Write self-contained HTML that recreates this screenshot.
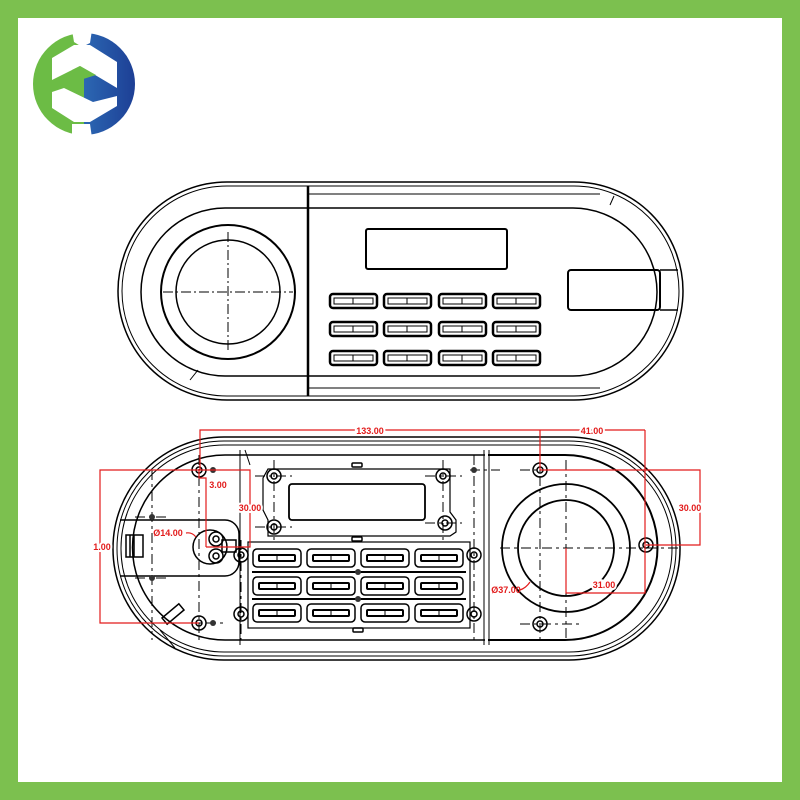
<!DOCTYPE html>
<html><head><meta charset="utf-8"><style>
html,body{margin:0;padding:0;background:#fff}
svg{display:block}
</style></head><body>
<svg width="800" height="800" viewBox="0 0 800 800" xmlns="http://www.w3.org/2000/svg">
<defs>
<linearGradient id="bl" x1="0" y1="0" x2="1" y2="0"><stop offset="0" stop-color="#3a8fd0"/><stop offset="1" stop-color="#1d3f95"/></linearGradient>
<clipPath id="lh"><rect x="20" y="20" width="64" height="130"/></clipPath>
<clipPath id="rh"><rect x="84" y="20" width="70" height="130"/></clipPath>
<g id="key1"><rect x="0" y="0" width="47" height="14" rx="3" fill="none" stroke="#000" stroke-width="2.5"/><rect x="4" y="4" width="39" height="6" fill="none" stroke="#000" stroke-width="1"/><line x1="23" y1="4" x2="23" y2="10" stroke="#000"/></g>
<g id="key2"><rect x="0" y="0" width="48" height="18" rx="4" fill="none" stroke="#000" stroke-width="1.5"/><rect x="6" y="6" width="36" height="6" rx="1" fill="none" stroke="#000" stroke-width="2"/><line x1="24" y1="6" x2="24" y2="12" stroke="#000"/></g>
<g id="scr"><circle r="7" fill="none" stroke="#000" stroke-width="1.5"/><circle r="3" fill="none" stroke="#000" stroke-width="1.5"/></g>
</defs>
<rect x="0" y="0" width="800" height="800" fill="#7cc04f"/>
<rect x="18" y="18" width="764" height="764" fill="#fff"/>
<!-- logo -->
<g>
<circle cx="84" cy="84" r="51" fill="#6cbc45" clip-path="url(#lh)"/>
<circle cx="84" cy="84" r="51" fill="url(#bl)" clip-path="url(#rh)"/>
<polygon points="72,30 92,30 90,43 82,47 74,42" fill="#fff"/>
<polygon points="52,58 74,45 90,45 117,62 117,88 80,66 72,70 52,80" fill="#fff"/>
<polygon points="72,70 80,66 96,75 80,80" fill="#6cbc45"/>
<polygon points="52,92 64,88 93,102 117,96 117,106 90,122 74,122 52,108" fill="#fff"/>
<polygon points="72,124 90,124 92,138 72,138" fill="#fff"/>
</g>
<g fill="none" stroke="#000" stroke-width="1.5">
<!-- TOP DEVICE -->
<rect x="118" y="182" width="565" height="218" rx="109"/>
<rect x="122" y="186" width="557" height="210" rx="105" stroke-width="1"/>
<path d="M305,208 L573,208 A84,84 0 0 1 573,376 L305,376" />
<path d="M305,208 L225,208 A84,84 0 0 0 225,376 L305,376" />
<line x1="308" y1="186" x2="308" y2="396" stroke-width="2.5"/>
<line x1="308" y1="194" x2="600" y2="194" stroke-width="1"/>
<line x1="308" y1="388" x2="600" y2="388" stroke-width="1"/>
<circle cx="228" cy="292" r="67" stroke-width="2"/>
<circle cx="228" cy="292" r="52"/>
<line x1="163" y1="292" x2="293" y2="292" stroke-dasharray="10,3,2,3" stroke-width="1"/>
<line x1="228" y1="232" x2="228" y2="352" stroke-dasharray="10,3,2,3" stroke-width="1"/>
<rect x="366" y="229" width="141" height="40" rx="2" stroke-width="2"/>
<rect x="568" y="270" width="92" height="40" rx="3" stroke-width="2"/>
<line x1="660" y1="270" x2="678" y2="270"/><line x1="660" y1="310" x2="678" y2="310"/>
<line x1="190" y1="380" x2="198" y2="370" stroke-width="1"/>
<line x1="610" y1="205" x2="614" y2="196" stroke-width="1"/>
</g>
<g>
<use href="#key1" x="330" y="294"/><use href="#key1" x="384" y="294"/><use href="#key1" x="439" y="294"/><use href="#key1" x="493" y="294"/>
<use href="#key1" x="330" y="322"/><use href="#key1" x="384" y="322"/><use href="#key1" x="439" y="322"/><use href="#key1" x="493" y="322"/>
<use href="#key1" x="330" y="351"/><use href="#key1" x="384" y="351"/><use href="#key1" x="439" y="351"/><use href="#key1" x="493" y="351"/>
</g>
<!-- BOTTOM DEVICE -->
<g fill="none" stroke="#000" stroke-width="1.5">
<rect x="113" y="437" width="567" height="223" rx="111"/>
<rect x="117" y="441" width="559" height="215" rx="107" stroke-width="1"/>
<rect x="121" y="445" width="551" height="207" rx="103" stroke-width="1"/>
<path d="M240,455 L225,455 A92,92 0 0 0 225,640 L485,640"/>
<path d="M488,455 L565,455 A92,92 0 0 1 565,640 L488,640" stroke-width="2"/>
<line x1="240" y1="455" x2="485" y2="455"/>
<line x1="484" y1="450" x2="484" y2="645" stroke-width="1"/>
<line x1="489" y1="450" x2="489" y2="645" stroke-width="1"/>
<line x1="240" y1="450" x2="240" y2="645" stroke-width="1"/>
<line x1="245" y1="450" x2="250" y2="465" stroke-width="1"/>
<path d="M268,469 L450,469 L450,512 L456,520 L456,532 L450,536 L268,536 L268,520 L263,510 L263,478 Z" stroke-width="1.2"/>
<rect x="289" y="484" width="136" height="36" rx="3" stroke-width="1.8"/>
<rect x="352" y="463" width="10" height="4" rx="1"/>
<rect x="352" y="537" width="10" height="4" rx="1"/>
<rect x="248" y="542" width="222" height="86" stroke-width="1.2"/>
<line x1="252" y1="572" x2="466" y2="572" stroke-width="2"/>
<line x1="252" y1="599" x2="466" y2="599" stroke-width="2"/>
<rect x="353" y="628" width="10" height="4" rx="1"/>
<path d="M120,520 L225,520 A14,14 0 0 1 239,534 L239,562 A14,14 0 0 1 225,576 L120,576"/>
<circle cx="210" cy="547" r="17"/>
<rect x="126" y="535" width="17" height="22" stroke-width="1.5"/>
<line x1="130" y1="535" x2="130" y2="557"/><line x1="134" y1="535" x2="134" y2="557"/>
<rect x="222" y="540" width="14" height="12"/>
<circle cx="566" cy="548" r="64" stroke-width="1.8"/>
<circle cx="566" cy="548" r="48" stroke-width="1.8"/>
<rect x="162" y="610" width="22" height="8" transform="rotate(-40 173 614)"/>
<line x1="160" y1="630" x2="175" y2="648" stroke-width="1"/>
</g>
<g stroke="#000" stroke-width="1" stroke-dasharray="10,4,3,4" fill="none">
<line x1="500" y1="548" x2="680" y2="548"/><line x1="566" y1="460" x2="566" y2="640"/>
<line x1="520" y1="470" x2="580" y2="470"/><line x1="520" y1="624" x2="580" y2="624"/>
<line x1="540" y1="455" x2="540" y2="640"/>
<line x1="185" y1="470" x2="225" y2="470"/><line x1="185" y1="623" x2="225" y2="623"/>
<line x1="199" y1="455" x2="199" y2="640"/>
<line x1="152" y1="470" x2="152" y2="640"/>
<line x1="135" y1="517" x2="170" y2="517"/><line x1="135" y1="578" x2="170" y2="578"/>
<line x1="255" y1="476" x2="292" y2="476"/><line x1="255" y1="527" x2="292" y2="527"/>
<line x1="425" y1="476" x2="462" y2="476"/><line x1="425" y1="523" x2="462" y2="523"/>
<line x1="274" y1="460" x2="274" y2="540"/><line x1="443" y1="460" x2="443" y2="540"/>
<line x1="470" y1="470" x2="500" y2="470"/><line x1="474" y1="455" x2="474" y2="640"/>
<line x1="241" y1="540" x2="241" y2="640"/>
</g>
<g>
<use href="#scr" x="199" y="470"/><use href="#scr" x="199" y="623"/>
<use href="#scr" x="540" y="470"/><use href="#scr" x="646" y="545"/><use href="#scr" x="540" y="624"/>
<use href="#scr" x="274" y="476"/><use href="#scr" x="274" y="527"/><use href="#scr" x="443" y="476"/><use href="#scr" x="445" y="523"/>
<use href="#scr" x="241" y="555"/><use href="#scr" x="241" y="614"/><use href="#scr" x="474" y="555"/><use href="#scr" x="474" y="614"/>
<use href="#scr" x="216" y="539"/><use href="#scr" x="216" y="556"/>
<circle cx="213" cy="470" r="3" fill="#333"/><circle cx="213" cy="623" r="3" fill="#333"/>
<circle cx="152" cy="517" r="3" fill="#333"/><circle cx="152" cy="578" r="3" fill="#333"/>
<circle cx="474" cy="470" r="3" fill="#333"/>
<circle cx="358" cy="572" r="3" fill="#333"/><circle cx="358" cy="599" r="3" fill="#333"/>
</g>
<g>
<use href="#key2" x="253" y="549"/><use href="#key2" x="307" y="549"/><use href="#key2" x="361" y="549"/><use href="#key2" x="415" y="549"/>
<use href="#key2" x="253" y="577"/><use href="#key2" x="307" y="577"/><use href="#key2" x="361" y="577"/><use href="#key2" x="415" y="577"/>
<use href="#key2" x="253" y="604"/><use href="#key2" x="307" y="604"/><use href="#key2" x="361" y="604"/><use href="#key2" x="415" y="604"/>
</g>
<g stroke="#e21b1b" stroke-width="1.2" fill="none">
<polyline points="200,470 200,430 540,430"/>
<line x1="540" y1="430" x2="645" y2="430"/>
<line x1="540" y1="430" x2="540" y2="470"/>
<polyline points="645,430 645,593 566,593 566,548"/>
<polyline points="540,470 700,470 700,545 646,545"/>
<polyline points="199,470 100,470 100,623 199,623"/>
<polyline points="199,470 250,470 250,547 206,547"/>
<polyline points="199,470 199,478 206,478 206,547"/>
<path d="M186,533 Q192,532 196,537"/>
<path d="M520,590 Q526,588 530,582"/>
</g>
<g fill="#e21b1b" font-family="Liberation Sans, sans-serif" font-size="9" font-weight="bold" text-anchor="middle">
<text x="370" y="434" style="paint-order:stroke" stroke="#fff" stroke-width="4">133.00</text>
<text x="592" y="434" stroke="#fff" stroke-width="4" style="paint-order:stroke">41.00</text>
<text x="690" y="511" stroke="#fff" stroke-width="4" style="paint-order:stroke">30.00</text>
<text x="250" y="511" stroke="#fff" stroke-width="4" style="paint-order:stroke">30.00</text>
<text x="218" y="488">3.00</text>
<text x="168" y="536">Ø14.00</text>
<text x="506" y="593">Ø37.00</text>
<text x="604" y="588" stroke="#fff" stroke-width="4" style="paint-order:stroke">31.00</text>
<text x="102" y="550" stroke="#fff" stroke-width="4" style="paint-order:stroke">1.00</text>
</g>
</svg>
</body></html>
